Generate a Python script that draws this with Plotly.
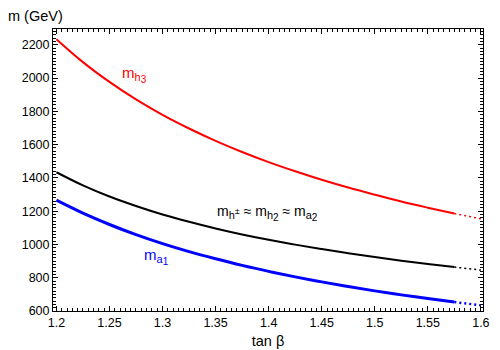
import plotly.graph_objects as go

tan_beta = [1.2, 1.225, 1.25, 1.275, 1.3, 1.325, 1.35, 1.375, 1.4, 1.425, 1.45, 1.475,
            1.5, 1.525, 1.55, 1.575, 1.6]
m_h3 = [2234, 2096, 1977, 1872, 1779, 1697, 1623, 1556, 1495, 1440, 1389, 1342,
        1299, 1258, 1221, 1186, 1154]
m_hpm = [1434, 1355, 1288, 1231, 1180, 1136, 1096, 1060, 1028, 999, 972, 947,
         924, 902, 882, 864, 846]
m_a1 = [1266, 1188, 1120, 1059, 1005, 957, 914, 874, 838, 805, 775, 747,
        721, 697, 675, 654, 634]

x_ticks = [1.2, 1.25, 1.3, 1.35, 1.4, 1.45, 1.5, 1.55, 1.6]
x_tick_labels = ["1.2", "1.25", "1.3", "1.35", "1.4", "1.45", "1.5", "1.55", "1.6"]
y_ticks = [600, 800, 1000, 1200, 1400, 1600, 1800, 2000, 2200]

SPLIT = 15  # index where the curve turns dotted (tan beta = 1.575)

fig = go.Figure()
series = [
    (m_h3, "#ff0000", 2),
    (m_hpm, "#000000", 2),
    (m_a1, "#0000ff", 3),
]
for ys, col, w in series:
    fig.add_trace(go.Scatter(x=tan_beta[:SPLIT + 1], y=ys[:SPLIT + 1], mode="lines",
                             line=dict(color=col, width=w, shape="spline"),
                             showlegend=False, hoverinfo="skip"))
    fig.add_trace(go.Scatter(x=tan_beta[SPLIT:], y=ys[SPLIT:], mode="lines",
                             line=dict(color=col, width=w - 0.5, dash="2px,3px"),
                             showlegend=False, hoverinfo="skip"))

font = "Liberation Sans, Arial, Helvetica, sans-serif"


def sub2(base, s):
    return f"{base}<sub><span style='font-size:10px'>{s}</span></sub>"


lbl_h3 = "m<sub><span style='font-size:11px'>h</span>" + sub2("", "3")[0:] + "</sub>"
fig.add_annotation(x=1.2596, y=2020, xanchor="left", yanchor="middle", showarrow=False,
                   text="m<sub><span style='font-size:11px'>h<sub><span style='font-size:10px'>3</span></sub></span></sub>",
                   font=dict(color="#ff0000", size=15, family=font))
fig.add_annotation(x=1.349, y=1192, xanchor="left", yanchor="middle", showarrow=False,
                   text=("m<sub><span style='font-size:11px'>h<sup><span style='font-size:9px'>±</span></sup></span></sub>"
                         " ≈ m<sub><span style='font-size:11px'>h<sub><span style='font-size:10px'>2</span></sub></span></sub>"
                         " ≈ m<sub><span style='font-size:11px'>a<sub><span style='font-size:10px'>2</span></sub></span></sub>"),
                   font=dict(color="#000000", size=14, family=font))
fig.add_annotation(x=1.2806, y=928, xanchor="left", yanchor="middle", showarrow=False,
                   text="m<sub><span style='font-size:11px'>a<sub><span style='font-size:10px'>1</span></sub></span></sub>",
                   font=dict(color="#0000ff", size=15, family=font))

pw, ph = 500 - 53 - 17, 350 - 29 - 39
fig.add_annotation(x=(6 - 53) / pw, y=(29 - 16) / ph + 1.0, xref="paper", yref="paper",
                   xanchor="left", yanchor="middle",
                   showarrow=False, text="m (GeV)", font=dict(color="#000000", size=14.5, family=font))

axis_common = dict(showgrid=False, zeroline=False, showline=True, linecolor="black", linewidth=1,
                   mirror="allticks", ticks="inside", ticklen=5, tickcolor="black", tickwidth=1,
                   automargin=False,
                   tickfont=dict(size=12.5, color="black", family=font))
fig.update_xaxes(range=[1.1968, 1.602], tickvals=x_ticks, ticktext=x_tick_labels,
                 title=dict(text="tan β", font=dict(size=14.5, color="black", family=font), standoff=6),
                 minor=dict(dtick=0.005, ticks="inside", ticklen=3, tickcolor="black"),
                 **axis_common)
fig.update_yaxes(range=[600, 2295], tickvals=y_ticks,
                 minor=dict(dtick=20, ticks="inside", ticklen=3, tickcolor="black"),
                 **axis_common)
fig.update_layout(width=500, height=350, margin=dict(l=53, r=17, t=29, b=39),
                  paper_bgcolor="white", plot_bgcolor="white",
                  font=dict(family=font, color="black"))
fig.write_html("out.html", config={"displayModeBar": False},
               post_script="document.body.style.margin='0';")
